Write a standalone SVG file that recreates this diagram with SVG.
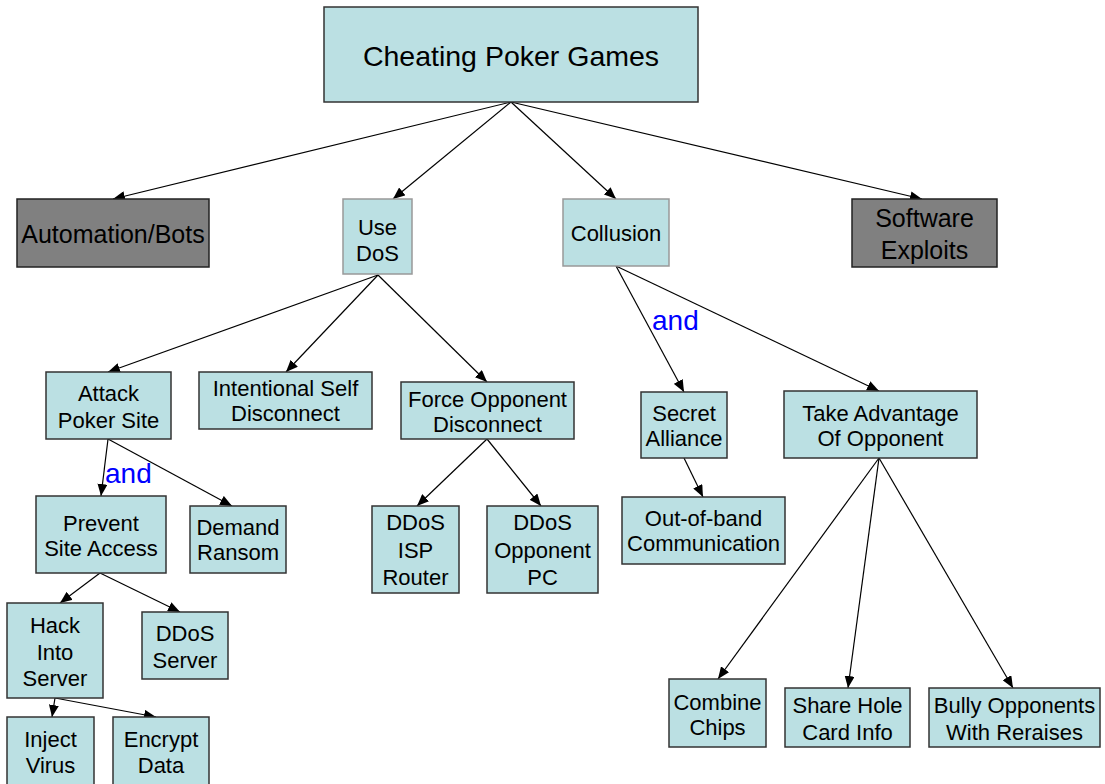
<svg xmlns="http://www.w3.org/2000/svg" width="1105" height="784" viewBox="0 0 1105 784">
<defs>
<marker id="ah" markerUnits="userSpaceOnUse" markerWidth="12" markerHeight="10" viewBox="0 0 12 10" refX="12" refY="5" orient="auto">
<path d="M0,0 L12,5 L0,10 Z" fill="#000"/>
</marker>
<style>
.n rect{fill:#BBE0E3;stroke:#333;stroke-width:1.5}
.n.l rect{stroke:#999}
.g rect{fill:#808080;stroke:#222;stroke-width:1.5}
text{font-family:"Liberation Sans",Arial,sans-serif;fill:#000;text-anchor:middle}
.t{font-size:22px}
.b{font-size:25px}
.r{font-size:28.5px}
.and{font-size:28px;fill:#0000FF;text-anchor:start}
#edges line{stroke:#000;stroke-width:1.2;marker-end:url(#ah)}
</style>
</defs>
<rect width="1105" height="784" fill="#fff"/>
<g id="edges">
<line x1="511" y1="102" x2="113" y2="199"/>
<line x1="511" y1="102" x2="393" y2="199"/>
<line x1="511" y1="102" x2="616" y2="199"/>
<line x1="511" y1="102" x2="922" y2="199"/>
<line x1="378" y1="275" x2="108" y2="372"/>
<line x1="378" y1="275" x2="286" y2="372"/>
<line x1="378" y1="275" x2="487" y2="382"/>
<line x1="616" y1="266" x2="684" y2="392"/>
<line x1="616" y1="266" x2="879" y2="391"/>
<line x1="108" y1="439" x2="101" y2="496"/>
<line x1="108" y1="439" x2="232" y2="506"/>
<line x1="100" y1="573" x2="60" y2="603"/>
<line x1="100" y1="573" x2="180" y2="612"/>
<line x1="55" y1="698" x2="52" y2="717"/>
<line x1="55" y1="698" x2="156" y2="717"/>
<line x1="487" y1="439" x2="417" y2="506"/>
<line x1="487" y1="439" x2="541" y2="506"/>
<line x1="684" y1="458" x2="703" y2="497"/>
<line x1="879" y1="458" x2="718" y2="679"/>
<line x1="879" y1="458" x2="848" y2="688"/>
<line x1="879" y1="458" x2="1013" y2="688"/>
</g>
<text class="and" x="105" y="483">and</text>
<text class="and" x="652" y="330">and</text>
<g id="root" class="n"><rect x="324" y="7" width="374" height="95"/><text class="r" x="511" y="66">Cheating Poker Games</text></g>
<g id="bots" class="g"><rect x="17" y="199" width="192" height="68"/><text class="b" x="113" y="243">Automation/Bots</text></g>
<g id="dos" class="n l"><rect x="343" y="199" width="69" height="75"/><text class="t" x="377.5" y="235">Use</text><text class="t" x="377.5" y="261">DoS</text></g>
<g id="collusion" class="n l"><rect x="563" y="199" width="106" height="67"/><text class="t" x="616" y="241">Collusion</text></g>
<g id="exploits" class="g"><rect x="852" y="199" width="145" height="68"/><text class="b" x="924.5" y="227">Software</text><text class="b" x="924.5" y="259">Exploits</text></g>
<g id="attack" class="n"><rect x="46" y="372" width="125" height="67"/><text class="t" x="108.5" y="401">Attack</text><text class="t" x="108.5" y="428">Poker Site</text></g>
<g id="selfdc" class="n"><rect x="199" y="372" width="173" height="57"/><text class="t" x="285.5" y="396">Intentional Self</text><text class="t" x="285.5" y="421">Disconnect</text></g>
<g id="forcedc" class="n"><rect x="401" y="382" width="173" height="57"/><text class="t" x="487.5" y="407">Force Opponent</text><text class="t" x="487.5" y="432">Disconnect</text></g>
<g id="alliance" class="n"><rect x="641" y="392" width="86" height="66"/><text class="t" x="684" y="421">Secret</text><text class="t" x="684" y="446">Alliance</text></g>
<g id="advantage" class="n"><rect x="784" y="391" width="193" height="67"/><text class="t" x="880.5" y="421">Take Advantage</text><text class="t" x="880.5" y="446">Of Opponent</text></g>
<g id="prevent" class="n"><rect x="36" y="496" width="130" height="77"/><text class="t" x="101" y="531">Prevent</text><text class="t" x="101" y="556">Site Access</text></g>
<g id="ransom" class="n"><rect x="190" y="506" width="96" height="67"/><text class="t" x="238" y="535">Demand</text><text class="t" x="238" y="560">Ransom</text></g>
<g id="isp" class="n"><rect x="372" y="506" width="87" height="87"/><text class="t" x="415.5" y="530">DDoS</text><text class="t" x="415.5" y="558">ISP</text><text class="t" x="415.5" y="585">Router</text></g>
<g id="opppc" class="n"><rect x="487" y="506" width="111" height="87"/><text class="t" x="542.5" y="530">DDoS</text><text class="t" x="542.5" y="558">Opponent</text><text class="t" x="542.5" y="585">PC</text></g>
<g id="oob" class="n"><rect x="622" y="497" width="163" height="67"/><text class="t" x="703.5" y="526">Out-of-band</text><text class="t" x="703.5" y="551">Communication</text></g>
<g id="hack" class="n"><rect x="7" y="603" width="96" height="95"/><text class="t" x="55" y="633">Hack</text><text class="t" x="55" y="660">Into</text><text class="t" x="55" y="686">Server</text></g>
<g id="ddosserver" class="n"><rect x="142" y="612" width="86" height="67"/><text class="t" x="185" y="641">DDoS</text><text class="t" x="185" y="668">Server</text></g>
<g id="virus" class="n"><rect x="7" y="717" width="87" height="80"/><text class="t" x="50.5" y="747">Inject</text><text class="t" x="50.5" y="773">Virus</text></g>
<g id="encrypt" class="n"><rect x="113" y="717" width="96" height="80"/><text class="t" x="161" y="747">Encrypt</text><text class="t" x="161" y="773">Data</text></g>
<g id="chips" class="n"><rect x="669" y="679" width="97" height="68"/><text class="t" x="717.5" y="710">Combine</text><text class="t" x="717.5" y="735">Chips</text></g>
<g id="holecard" class="n"><rect x="785" y="688" width="125" height="59"/><text class="t" x="847.5" y="713">Share Hole</text><text class="t" x="847.5" y="740">Card Info</text></g>
<g id="bully" class="n"><rect x="929" y="688" width="171" height="59"/><text class="t" x="1014.5" y="713">Bully Opponents</text><text class="t" x="1014.5" y="740">With Reraises</text></g>
</svg>
